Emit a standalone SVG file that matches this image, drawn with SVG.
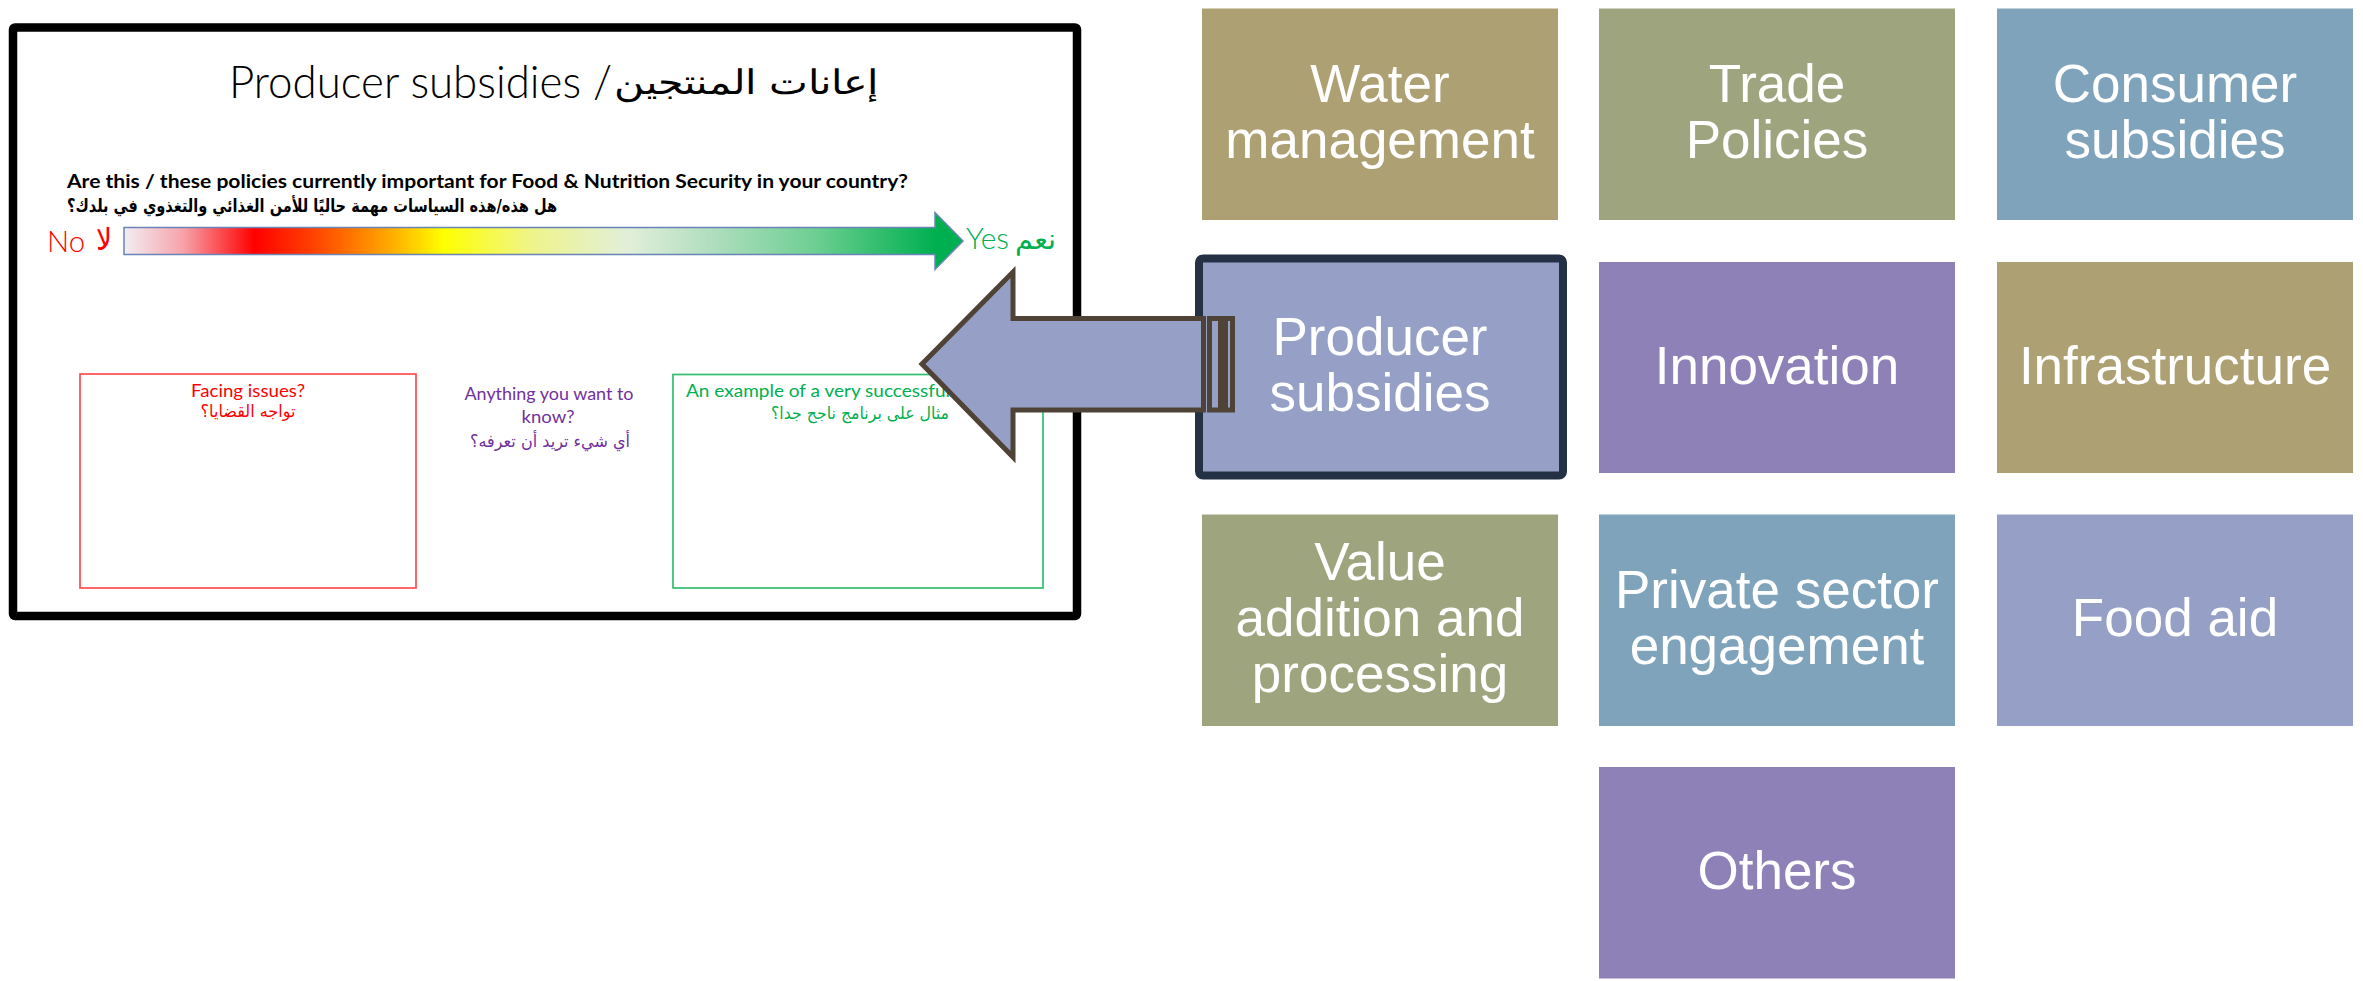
<svg xmlns="http://www.w3.org/2000/svg" width="2363" height="981" viewBox="0 0 2363 981">
<defs>
<linearGradient id="scaleGrad" gradientUnits="userSpaceOnUse" x1="124" y1="0" x2="964" y2="0">
<stop offset="0" stop-color="#f3eef3"/>
<stop offset="0.07" stop-color="#f7a3ab"/>
<stop offset="0.155" stop-color="#ff0000"/>
<stop offset="0.22" stop-color="#ff3c00"/>
<stop offset="0.31" stop-color="#ffa200"/>
<stop offset="0.38" stop-color="#ffff00"/>
<stop offset="0.49" stop-color="#eef48f"/>
<stop offset="0.6" stop-color="#e2efd9"/>
<stop offset="0.69" stop-color="#b5dfc2"/>
<stop offset="0.82" stop-color="#6fcf93"/>
<stop offset="0.965" stop-color="#00b050"/>
<stop offset="1" stop-color="#00b050"/>
</linearGradient>
<style>
.tile rect{stroke:none}
.tile text{font-family:"Liberation Sans",Arial,sans-serif;font-size:53px;fill:#ffffff;text-anchor:middle}
.khaki{fill:#ADA173}
.olive{fill:#9EA57E}
.blue{fill:#7FA3BA}
.lav{fill:#96A0C6}
.purp{fill:#8D81B8}
.lat{font-family:Lato,"Liberation Sans",sans-serif}
.ar{font-family:"DejaVu Sans","Noto Sans",sans-serif}
.red{fill:#ff0000}
.grn{fill:#00b050}
.vio{fill:#7030a0}
</style>
</defs>
<rect x="0" y="0" width="2363" height="981" fill="#ffffff"/>

<g id="slide">
<rect x="13" y="27.5" width="1064" height="588.5" rx="2" fill="#ffffff" stroke="#000000" stroke-width="8.5"/>
<text class="lat" x="229" y="98" font-size="46" font-weight="300" fill="#000000" textLength="383" lengthAdjust="spacingAndGlyphs">Producer subsidies /</text>
<text class="ar" x="614" y="94" font-size="34" font-weight="200" fill="#000000" textLength="264" lengthAdjust="spacingAndGlyphs">إعانات المنتجين</text>
<text class="lat" x="67" y="188" font-size="18" font-weight="700" fill="#000000" textLength="841" lengthAdjust="spacingAndGlyphs">Are this / these policies currently important for Food &amp; Nutrition Security in your country?</text>
<text class="ar" x="67" y="212" font-size="18" font-weight="700" fill="#000000" textLength="490" lengthAdjust="spacingAndGlyphs">هل هذه/هذه السياسات مهمة حاليًا للأمن الغذائي والتغذوي في بلدك؟&#x200F;</text>
<polygon points="124,227.5 935,227.5 935,212.5 963,241 935,269.5 935,254.5 124,254.5" fill="url(#scaleGrad)" stroke="#6a84b6" stroke-width="1.5" stroke-linejoin="miter"/>
<text class="lat red" x="47" y="251.5" font-size="30" font-weight="300" textLength="38" lengthAdjust="spacingAndGlyphs">No</text>
<text class="ar red" x="96" y="250" font-size="30" textLength="16" lengthAdjust="spacingAndGlyphs">لا</text>
<text class="lat grn" x="966" y="249" font-size="30" font-weight="300" textLength="43" lengthAdjust="spacingAndGlyphs">Yes</text>
<text class="ar grn" x="1015" y="249" font-size="28" textLength="41" lengthAdjust="spacingAndGlyphs">نعم</text>
</g>

<g id="box-issues">
<rect x="80" y="374" width="336" height="214" fill="none" stroke="#ff4d4d" stroke-width="1.7"/>
<text class="lat red" x="248" y="397.3" font-size="18" text-anchor="middle" textLength="114" lengthAdjust="spacingAndGlyphs">Facing issues?</text>
<text class="ar red" x="248" y="417" font-size="17" text-anchor="middle" textLength="95" lengthAdjust="spacingAndGlyphs">تواجه القضايا؟&#x200F;</text>
</g>

<g id="question-know">
<text class="lat vio" x="549" y="400" font-size="18" text-anchor="middle" textLength="169" lengthAdjust="spacingAndGlyphs">Anything you want to</text>
<text class="lat vio" x="548" y="423.3" font-size="18" text-anchor="middle" textLength="53" lengthAdjust="spacingAndGlyphs">know?</text>
<text class="ar vio" x="550" y="447" font-size="17" text-anchor="middle" textLength="160" lengthAdjust="spacingAndGlyphs">أي شيء تريد أن تعرفه؟&#x200F;</text>
</g>

<g id="box-example">
<rect x="673" y="374.5" width="370" height="213.5" fill="none" stroke="#2fbf6f" stroke-width="1.7"/>
<text class="lat grn" x="686" y="396.7" font-size="18" textLength="264" lengthAdjust="spacingAndGlyphs">An example of a very successful</text>
<text class="ar grn" x="860" y="418.5" font-size="17" text-anchor="middle" textLength="178" lengthAdjust="spacingAndGlyphs">مثال على برنامج ناجح جدا؟&#x200F;</text>
</g>

<g id="tile-water" class="tile">
<rect class="khaki" x="1202" y="8.5" width="356" height="211.5"/>
<text x="1380" y="102">Water</text>
<text x="1380" y="157.5">management</text>
</g>
<g id="tile-trade" class="tile">
<rect class="olive" x="1599" y="8.5" width="356" height="211.5"/>
<text x="1777" y="102">Trade</text>
<text x="1777" y="157.5">Policies</text>
</g>
<g id="tile-consumer" class="tile">
<rect class="blue" x="1997" y="8.5" width="356" height="211.5"/>
<text x="2175" y="102">Consumer</text>
<text x="2175" y="157.5">subsidies</text>
</g>
<g id="tile-producer" class="tile">
<rect x="1199" y="258.5" width="364" height="217" rx="4" fill="#96A0C6" stroke="#243044" stroke-width="8" style="stroke:#243044"/>
<text x="1380" y="355">Producer</text>
<text x="1380" y="410.5">subsidies</text>
</g>
<g id="tile-innovation" class="tile">
<rect class="purp" x="1599" y="262" width="356" height="211"/>
<text x="1777" y="383.5">Innovation</text>
</g>
<g id="tile-infrastructure" class="tile">
<rect class="khaki" x="1997" y="262" width="356" height="211"/>
<text x="2175" y="383.5">Infrastructure</text>
</g>
<g id="tile-value" class="tile">
<rect class="olive" x="1202" y="514.5" width="356" height="211.5"/>
<text x="1380" y="580">Value</text>
<text x="1380" y="636">addition and</text>
<text x="1380" y="691.5">processing</text>
</g>
<g id="tile-private" class="tile">
<rect class="blue" x="1599" y="514.5" width="356" height="211.5"/>
<text x="1777" y="608">Private sector</text>
<text x="1777" y="663.5">engagement</text>
</g>
<g id="tile-foodaid" class="tile">
<rect class="lav" x="1997" y="514.5" width="356" height="211.5"/>
<text x="2175" y="636">Food aid</text>
</g>
<g id="tile-others" class="tile">
<rect class="purp" x="1599" y="767" width="356" height="211.5"/>
<text x="1777" y="889">Others</text>
</g>

<g id="connectors">
<polygon points="922,364 1013,272 1013,318.5 1203.5,318.5 1203.5,410 1013,410 1013,457" fill="#96A0C6" stroke="#4F4236" stroke-width="5" stroke-linejoin="miter"/>
<rect x="1209.5" y="318.5" width="11" height="91.5" fill="#96A0C6" stroke="#4F4236" stroke-width="5"/>
<rect x="1225.5" y="318.5" width="7" height="91.5" fill="#96A0C6" stroke="#4F4236" stroke-width="5"/>
</g>
</svg>
